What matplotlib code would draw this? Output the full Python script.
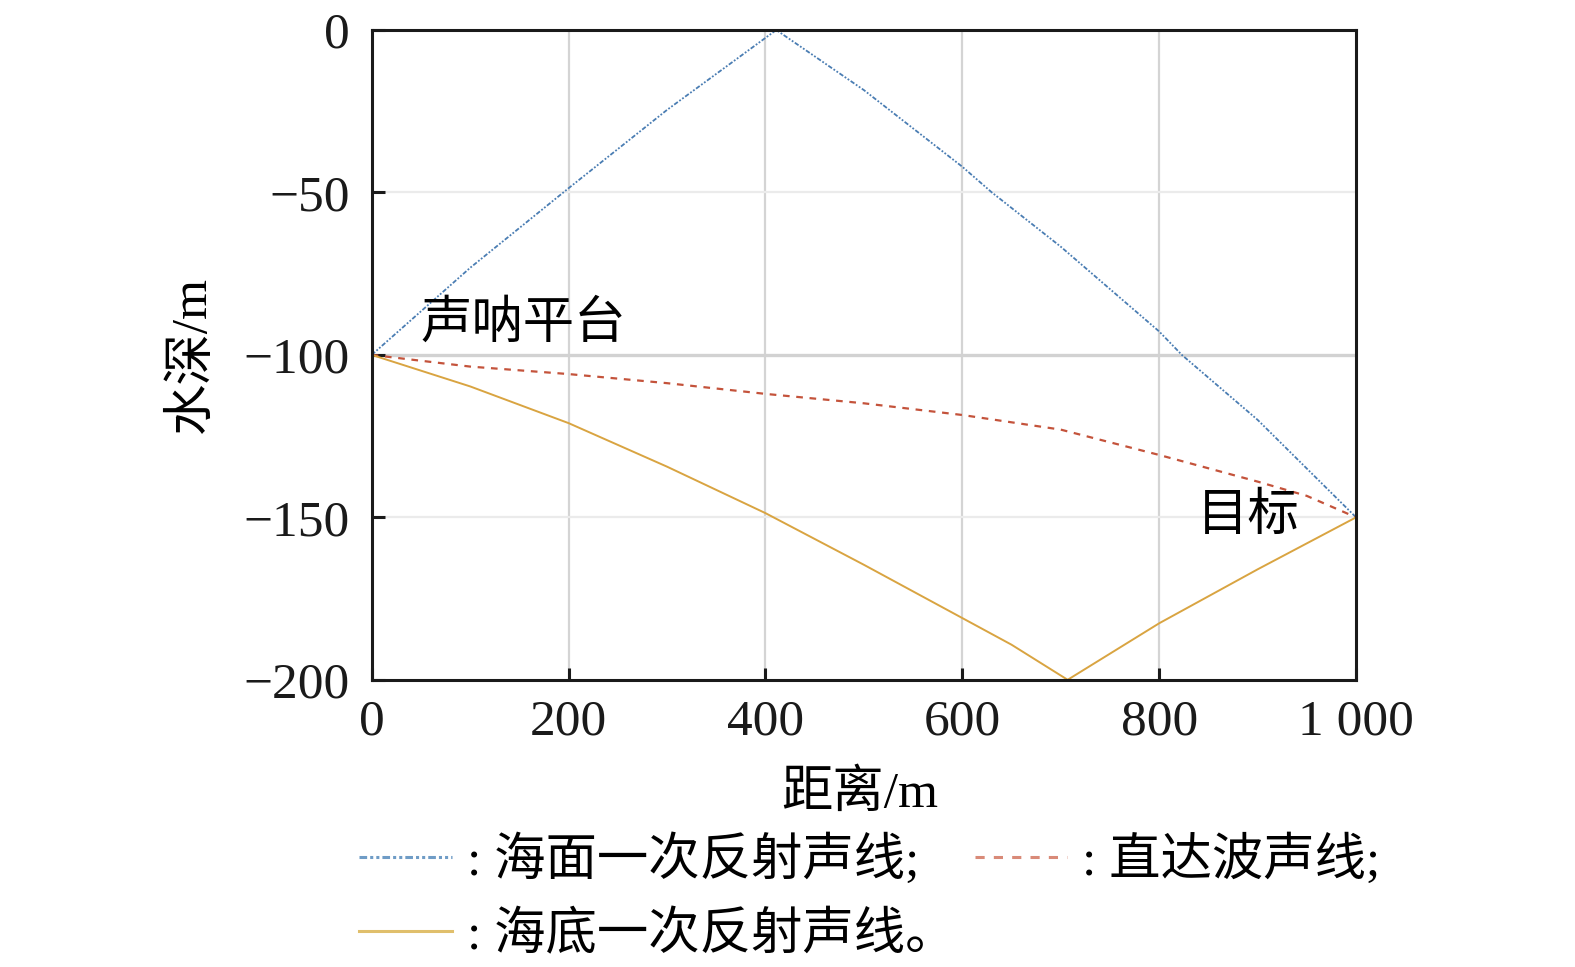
import numpy as np
import matplotlib
matplotlib.use('Agg')
import matplotlib.pyplot as plt

plt.rcParams['font.family'] = ['Liberation Serif', 'Noto Sans CJK SC']
plt.rcParams['axes.unicode_minus'] = True

# 海面一次反射声线
x_surface = [0, 100, 200, 300, 411, 500, 600, 630, 700, 800, 823, 900, 1000]
y_surface = [-100, -73.2, -48.7, -24.6, 0, -18.5, -42.1, -50, -66.7, -92.8, -100, -120, -150]

# 直达波声线
x_direct = [0, 100, 200, 300, 400, 500, 600, 700, 800, 900, 950, 1000]
y_direct = [-100, -103.6, -105.9, -108.7, -112, -114.9, -118.5, -123, -130.8, -139, -143.4, -150]

# 海底一次反射声线
x_bottom = [0, 100, 200, 300, 400, 500, 600, 650, 707, 800, 900, 1000]
y_bottom = [-100, -109.7, -121, -134.4, -148.7, -164.6, -181, -189.2, -200, -182.6, -166, -150]

x_ticks = [0, 200, 400, 600, 800, 1000]
x_tick_labels = ['0', '200', '400', '600', '800', '1 000']
y_ticks = [0, -50, -100, -150, -200]

fig = plt.figure(figsize=(15.75, 9.67), dpi=100)
ax = fig.add_axes([0.236, 0.297, 0.625, 0.672])

# grille
for xv in [200, 400, 600, 800]:
    ax.axvline(xv, color='#d4d4d4', lw=1.6, zorder=0)
for yv in [-50, -150]:
    ax.axhline(yv, color='#ebebeb', lw=1.6, zorder=0)
ax.axhline(-100, color='#d2d2d2', lw=2.4, zorder=0)

l_surf, = ax.plot(x_surface, y_surface, color='#4a7db3', lw=1.3,
                  dashes=(2.5, 1, 1, 1, 1, 1), label=': 海面一次反射声线;')
l_dir, = ax.plot(x_direct, y_direct, color='#c4533b', lw=1.6,
                 dashes=(3, 3), label=': 直达波声线;')
l_bot, = ax.plot(x_bottom, y_bottom, color='#d9a441', lw=1.4,
                 label=': 海底一次反射声线。')

ax.set_xlim(0, 1000)
ax.set_ylim(-200, 0)
ax.set_xticks(x_ticks)
ax.set_xticklabels(x_tick_labels)
ax.set_yticks(y_ticks)
ax.tick_params(direction='in', length=9, width=2.2, labelsize=37, colors='#1a1a1a')
ax.tick_params(axis='x', pad=14)
ax.tick_params(axis='y', pad=16)
for s in ax.spines.values():
    s.set_linewidth(2.2)
    s.set_color('#1a1a1a')

ax.set_xlabel('距离/m', fontsize=37)
ax.set_ylabel('水深/m', fontsize=37)
ax.xaxis.set_label_coords(0.496, -0.14)
ax.yaxis.set_label_coords(-0.158, 0.5)

ax.text(50, -98, '声呐平台', fontsize=37, ha='left', va='bottom')
ax.text(838, -150, '目标', fontsize=37, ha='left', va='center')

leg = fig.legend([l_surf, l_bot, l_dir],
                 [l_surf.get_label(), l_bot.get_label(), l_dir.get_label()],
                 ncol=2, loc='upper left', bbox_to_anchor=(0.215, 0.158),
                 frameon=False, fontsize=37, handlelength=1.8, handletextpad=0.3,
                 columnspacing=0.35, labelspacing=0.5, borderaxespad=0)
leg.get_lines()[0].set_color('#6f9cc6')
leg.get_lines()[1].set_color('#e0bf6c')
leg.get_lines()[2].set_color('#d98a78')
for ln in leg.get_lines():
    ln.set_linewidth(2.2)

fig.savefig('out.png', dpi=100)
